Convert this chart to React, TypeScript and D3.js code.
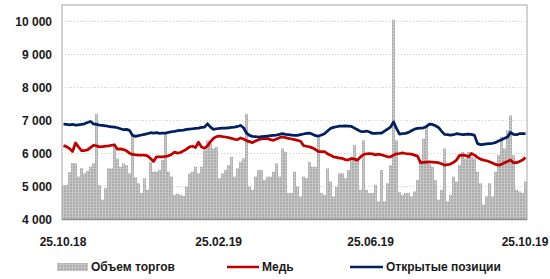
import React from 'react';
import * as d3 from 'd3';

// Medium-resolution readings (one value every ~2.4 days), same axis units as the chart
const volume = [
  5040, 5050, 5430, 5710, 5700, 5300, 5560, 5400, 5480, 5600,
  5700, 7200, 5040, 4600, 4950, 5550, 5550, 6300, 5850, 5600,
  5700, 5650, 5400, 6550, 5280, 5100, 4800, 5250, 4900, 5750,
  5450, 5450, 5500, 5800, 6650, 5450, 5300, 4750, 4780, 4750,
  4720, 5000, 5400, 5450, 5600, 5400, 5600, 6100, 6400, 6300,
  6150, 6200, 5250, 5400, 5500, 5650, 5900, 5300, 5550, 5750,
  5850, 7200, 5000, 4900, 5300, 5500, 5500, 5200, 5300, 5300,
  5450, 5700, 5300, 6150, 6050, 4800, 4800, 5450, 5000, 4700,
  5300, 5250, 5750, 5600, 5600, 6550, 4800, 4750, 5550, 5150,
  4700, 5000, 5400, 5400, 5250, 5500, 5800, 6250, 5850, 4900,
  6400, 4900, 4800, 4800, 5050, 4550, 5500, 4550, 5100, 5650,
  10050, 6400, 4830, 4750, 4800, 4800, 4700, 4850, 5200, 5800,
  6450, 6800, 5700, 5600, 5200, 4600, 4900, 6150, 4550, 4750,
  5300, 5150, 5650, 6050, 5850, 6050, 5900, 5850, 5450, 5100,
  4450, 4700, 5100, 4700, 5450, 5950, 6500, 6150, 6700, 7150,
  5950, 4900, 4850, 4800, 5150,
];

const copper = [
  6240, 6210, 6150, 6060, 6320, 6200, 6090, 6090, 6110, 6180,
  6250, 6230, 6200, 6210, 6220, 6230, 6250, 6260, 6130, 6140,
  6120, 6080, 6010, 5970, 5960, 5950, 5950, 5950, 5930, 5850,
  5760, 5900, 5900, 5900, 5910, 5930, 5970, 6040, 6010, 6030,
  6080, 6130, 6200, 6220, 6180, 6340, 6200, 6160, 6230, 6360,
  6460, 6510, 6530, 6510, 6500, 6480, 6460, 6430, 6420, 6470,
  6440, 6390, 6360, 6330, 6380, 6420, 6440, 6450, 6450, 6420,
  6400, 6440, 6480, 6500, 6480, 6460, 6440, 6420, 6400, 6370,
  6240, 6220, 6200, 6170, 6120, 6060, 6060, 6060, 5990, 5950,
  5900, 5880, 5860, 5850, 5810, 5810, 5850, 5830, 5800, 5900,
  5970, 5990, 6000, 5990, 5960, 5980, 5960, 5930, 5900, 5900,
  5950, 5990, 6000, 6020, 6000, 5990, 5980, 5950, 5920, 5720,
  5730, 5740, 5750, 5740, 5730, 5720, 5690, 5650, 5660, 5680,
  5730, 5800, 5940, 5950, 5940, 5900, 6000, 5950, 5880, 5830,
  5800, 5780, 5750, 5710, 5670, 5650, 5670, 5720, 5760, 5800,
  5720, 5720, 5760, 5800, 5880,
];

const openInterest = [
  6890, 6880, 6870, 6880, 6860, 6870, 6880, 6900, 6940, 6970,
  6900, 6880, 6860, 6850, 6840, 6820, 6810, 6800, 6780, 6750,
  6720, 6730, 6700, 6550, 6520, 6540, 6560, 6580, 6600, 6630,
  6620, 6630, 6610, 6620, 6620, 6640, 6660, 6670, 6690, 6700,
  6710, 6730, 6740, 6750, 6760, 6770, 6790, 6800, 6900, 6800,
  6730, 6750, 6760, 6770, 6770, 6780, 6790, 6800, 6820, 6850,
  6780, 6620, 6550, 6520, 6510, 6500, 6510, 6520, 6530, 6540,
  6550, 6560, 6580, 6600, 6580, 6570, 6560, 6550, 6550, 6570,
  6590, 6610, 6620, 6580, 6540, 6530, 6560, 6600, 6680, 6760,
  6790, 6810, 6830, 6830, 6840, 6830, 6820, 6770, 6720, 6670,
  6660, 6680, 6650, 6610, 6610, 6620, 6620, 6680, 6740, 6800,
  6960, 6760, 6590, 6600, 6610, 6640, 6690, 6740, 6760, 6770,
  6780, 6820, 6890, 6880, 6840, 6790, 6680, 6580, 6570, 6560,
  6570, 6600, 6590, 6570, 6580, 6590, 6580, 6550, 6300, 6270,
  6280, 6290, 6300, 6310, 6330, 6380, 6420, 6460, 6500, 6640,
  6580, 6570, 6600, 6600, 6600,
];

const yTicks = [4000, 5000, 6000, 7000, 8000, 9000, 10000];
const xTickDates = ['2018-10-25', '2019-02-25', '2019-06-25', '2019-10-25'];
const legendLabels = ['Объем торгов', 'Медь', 'Открытые позиции'];

const W = 550;
const H = 279;
const margin = { top: 5, right: 23, bottom: 59.5, left: 62 };
const font = '"Liberation Sans", Arial, sans-serif';

const ru = d3.formatLocale({ decimal: ',', thousands: '\u00a0', grouping: [3], currency: ['', ''] });
const fmtNum = ru.format(',');
const fmtDate = d3.timeFormat('%d.%m.%y');

export default function App() {
  const x = d3.scaleBand<number>()
    .domain(d3.range(volume.length))
    .range([margin.left, W - margin.right])
    .padding(0);

  const y = d3.scaleLinear()
    .domain([4000, 10500])
    .range([H - margin.bottom, margin.top]);

  const dates = xTickDates.map(d => new Date(d + 'T00:00:00'));
  const t = d3.scaleTime()
    .domain([dates[0], dates[dates.length - 1]])
    .range([margin.left + 1, W - margin.right - 2]);

  const line = d3.line<number>()
    .x((_, i) => x(i)! + x.bandwidth() / 2)
    .y(d => y(d));

  const plotBottom = H - margin.bottom;

  return (
    <svg width={W} height={H} style={{ position: 'absolute', left: 0, top: 0, background: '#fff' }}
      fontFamily={font}>
      <defs>
        <pattern id="hatch" width="3" height="3" patternUnits="userSpaceOnUse">
          <rect width="3" height="3" fill="#ababab" />
          <rect width="1" height="3" fill="#cacaca" />
          <rect width="3" height="1" fill="#c4c4c4" />
        </pattern>
      </defs>

      {/* grid */}
      {yTicks.slice(1).map(v => (
        <line key={v} x1={margin.left} x2={W - margin.right} y1={y(v)} y2={y(v)}
          stroke="#d0d0d0" strokeDasharray="1,2" strokeWidth={1} />
      ))}

      {/* volume bars */}
      {volume.map((v, i) => (
        <rect key={i} x={x(i)} y={y(v)} width={x.bandwidth()} height={plotBottom - y(v)}
          fill="url(#hatch)" />
      ))}

      <path d={line(copper)!} fill="none" stroke="#c00000" strokeWidth={2.75} strokeLinejoin="round" />
      <path d={line(openInterest)!} fill="none" stroke="#002060" strokeWidth={2.75} strokeLinejoin="round" />

      {/* frame */}
      <rect x={margin.left} y={margin.top} width={W - margin.left - margin.right}
        height={plotBottom - margin.top} fill="none" stroke="#a6a6a6" strokeWidth={1} />
      <line x1={margin.left} x2={W - margin.right} y1={plotBottom} y2={plotBottom}
        stroke="#8c8c8c" strokeWidth={1.5} />

      {/* y labels */}
      {yTicks.map(v => (
        <text key={v} x={52} y={y(v)} dy="0.35em" textAnchor="end" fontSize={12}
          fontWeight="bold" fill="#1a1a1a">{fmtNum(v)}</text>
      ))}

      {/* x labels */}
      {dates.map((d, i) => (
        <text key={i} x={t(d)} y={246} textAnchor="middle" fontSize={12}
          fontWeight="bold" fill="#1a1a1a">{fmtDate(d)}</text>
      ))}

      {/* legend */}
      <g fontSize={12} fontWeight="bold" fill="#1a1a1a">
        <rect x={57} y={263} width={31} height={8} fill="url(#hatch)" />
        <text x={91} y={271}>{legendLabels[0]}</text>
        <line x1={227} x2={259} y1={267} y2={267} stroke="#c00000" strokeWidth={2.5} />
        <text x={262} y={271}>{legendLabels[1]}</text>
        <line x1={350} x2={383} y1={267} y2={267} stroke="#002060" strokeWidth={2.5} />
        <text x={386} y={271}>{legendLabels[2]}</text>
      </g>
    </svg>
  );
}
